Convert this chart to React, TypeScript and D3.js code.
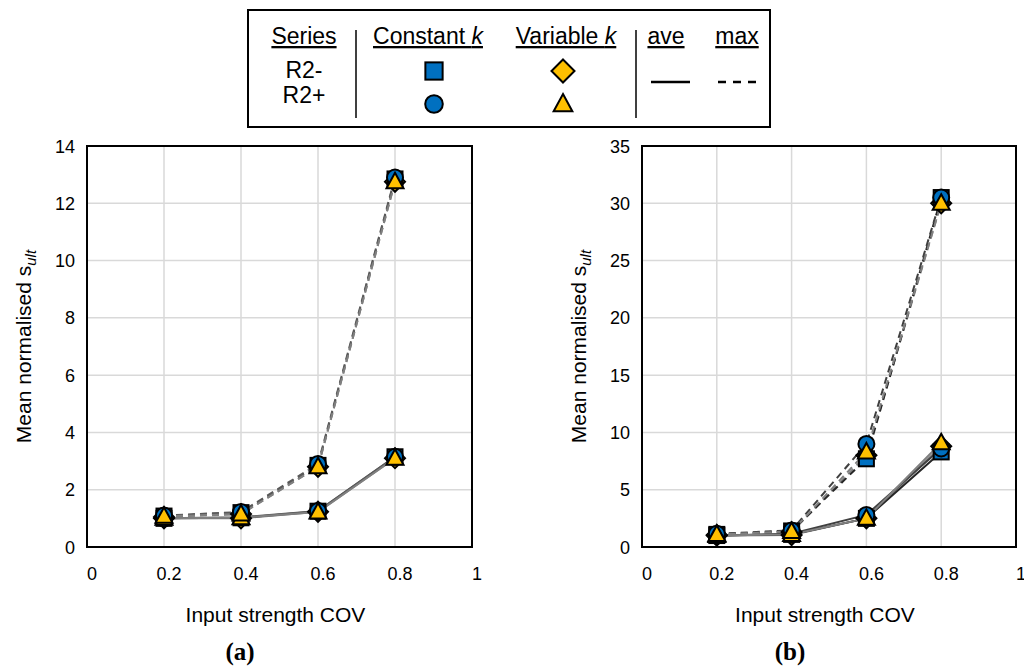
import React from "react";
import * as d3 from "d3";

const xValues = [0.2, 0.4, 0.6, 0.8];
const xTicks = [0, 0.2, 0.4, 0.6, 0.8, 1];
const yTicksA = [0, 2, 4, 6, 8, 10, 12, 14];
const yTicksB = [0, 5, 10, 15, 20, 25, 30, 35];

// Chart (a)
const aR2mConstAve = [1.0, 1.02, 1.25, 3.15];
const aR2mConstMax = [1.08, 1.2, 2.85, 12.85];
const aR2pConstAve = [1.0, 1.04, 1.26, 3.15];
const aR2pConstMax = [1.1, 1.22, 2.9, 12.9];
const aR2mVarAve = [1.0, 1.0, 1.23, 3.1];
const aR2mVarMax = [1.05, 1.15, 2.8, 12.75];
const aR2pVarAve = [1.0, 1.02, 1.22, 3.1];
const aR2pVarMax = [1.07, 1.15, 2.8, 12.75];

// Chart (b)
const bR2mConstAve = [1.0, 1.1, 2.5, 8.3];
const bR2mConstMax = [1.1, 1.4, 7.7, 30.5];
const bR2pConstAve = [1.0, 1.15, 2.8, 8.6];
const bR2pConstMax = [1.15, 1.45, 9.0, 30.5];
const bR2mVarAve = [1.0, 1.05, 2.5, 8.8];
const bR2mVarMax = [1.05, 1.3, 8.0, 30.0];
const bR2pVarAve = [1.0, 1.1, 2.5, 9.1];
const bR2pVarMax = [1.1, 1.35, 8.3, 30.0];

const BLUE = "#0070C0";
const YELLOW = "#FFC000";
const FONT = "Liberation Sans, Arial, sans-serif";

type Shape = "square" | "circle" | "diamond" | "triangle";

function Marker({ shape, x, y, s = 1 }: { shape: Shape; x: number; y: number; s?: number }) {
  const sw = 2;
  if (shape === "square")
    return <rect x={x - 7.5 * s} y={y - 7.5 * s} width={15 * s} height={15 * s} fill={BLUE} stroke="#000" strokeWidth={sw} />;
  if (shape === "circle")
    return <circle cx={x} cy={y} r={8 * s} fill={BLUE} stroke="#000" strokeWidth={sw} />;
  if (shape === "diamond") {
    const h = 10 * s;
    return (
      <path d={`M${x},${y - h}L${x + h},${y}L${x},${y + h}L${x - h},${y}Z`} fill={YELLOW} stroke="#000" strokeWidth={sw} />
    );
  }
  const w = 8.5 * s;
  return (
    <path
      d={`M${x},${y - 9 * s}L${x + w},${y + 6.5 * s}L${x - w},${y + 6.5 * s}Z`}
      fill={YELLOW}
      stroke="#000"
      strokeWidth={sw}
    />
  );
}

interface SeriesDef {
  shape: Shape;
  ave: number[];
  max: number[];
  color: string;
}

function Chart({
  left,
  right,
  top,
  bottom,
  yMax,
  yTicks,
  series,
  caption,
  yTitleX,
  captionX,
}: {
  left: number;
  right: number;
  top: number;
  bottom: number;
  yMax: number;
  yTicks: number[];
  series: SeriesDef[];
  caption: string;
  yTitleX: number;
  captionX: number;
}) {
  const x = d3.scaleLinear().domain([0, 1]).range([left, right]);
  const y = d3.scaleLinear().domain([0, yMax]).range([bottom, top]);
  const line = d3
    .line<number>()
    .x((_, i) => x(xValues[i]))
    .y((d) => y(d));
  const midY = (top + bottom) / 2;
  const midX = (left + right) / 2;
  return (
    <g>
      {xTicks.map((t) => (
        <line key={"gx" + t} x1={x(t)} x2={x(t)} y1={top} y2={bottom} stroke="#d9d9d9" strokeWidth={1.5} />
      ))}
      {yTicks.map((t) => (
        <line key={"gy" + t} x1={left} x2={right} y1={y(t)} y2={y(t)} stroke="#d9d9d9" strokeWidth={1.5} />
      ))}
      <rect x={left} y={top} width={right - left} height={bottom - top} fill="none" stroke="#000" strokeWidth={2} />
      {yTicks.map((t) => (
        <text key={"ty" + t} x={left - 12} y={y(t) + 6.5} textAnchor="end" fontFamily={FONT} fontSize={18} fill="#000">
          {t}
        </text>
      ))}
      {xTicks.map((t) => (
        <text key={"tx" + t} x={x(t) + 5} y={580} textAnchor="middle" fontFamily={FONT} fontSize={18} fill="#000">
          {t}
        </text>
      ))}
      <text x={midX - 4} y={622} textAnchor="middle" fontFamily={FONT} fontSize={21} fill="#000">
        Input strength COV
      </text>
      <text
        transform={`translate(${yTitleX},${midY}) rotate(-90)`}
        textAnchor="middle"
        fontFamily={FONT}
        fontSize={21}
        fill="#000"
      >
        Mean normalised s
        <tspan fontStyle="italic" fontSize={15} dy={5}>
          ult
        </tspan>
      </text>
      <text
        x={captionX}
        y={660}
        textAnchor="middle"
        fontFamily="Liberation Serif, Times New Roman, serif"
        fontWeight="bold"
        fontSize={25}
        fill="#000"
      >
        {caption}
      </text>
      {series.map((s, i) => (
        <g key={"l" + i}>
          <path d={line(s.ave) || ""} fill="none" stroke={s.color} strokeWidth={2} />
          <path d={line(s.max) || ""} fill="none" stroke={s.color} strokeWidth={2} strokeDasharray="7,5" />
        </g>
      ))}
      {series.map((s, i) => (
        <g key={"m" + i}>
          {s.ave.map((v, j) => (
            <Marker key={"a" + j} shape={s.shape} x={x(xValues[j])} y={y(v)} />
          ))}
          {s.max.map((v, j) => (
            <Marker key={"b" + j} shape={s.shape} x={x(xValues[j])} y={y(v)} />
          ))}
        </g>
      ))}
    </g>
  );
}

function Legend() {
  const t = { fontFamily: FONT, fontSize: 23, fill: "#000" } as const;
  return (
    <g>
      <rect x={248} y={10} width={522} height={117} fill="#fff" stroke="#000" strokeWidth={2} />
      <text x={304} y={44} textAnchor="middle" textDecoration="underline" {...t}>
        Series
      </text>
      <text x={428} y={44} textAnchor="middle" textDecoration="underline" {...t}>
        Constant <tspan fontStyle="italic">k</tspan>
      </text>
      <text x={566} y={44} textAnchor="middle" textDecoration="underline" {...t}>
        Variable <tspan fontStyle="italic">k</tspan>
      </text>
      <text x={666} y={44} textAnchor="middle" textDecoration="underline" {...t}>
        ave
      </text>
      <text x={737} y={44} textAnchor="middle" textDecoration="underline" {...t}>
        max
      </text>
      <text x={304} y={78} textAnchor="middle" {...t}>
        R2-
      </text>
      <text x={304} y={103} textAnchor="middle" {...t}>
        R2+
      </text>
      <line x1={356} x2={356} y1={30} y2={118} stroke="#000" strokeWidth={1.5} />
      <line x1={636} x2={636} y1={30} y2={118} stroke="#000" strokeWidth={1.5} />
      <Marker shape="square" x={434} y={71} s={1.15} />
      <Marker shape="diamond" x={563} y={71} s={1.15} />
      <Marker shape="circle" x={434} y={104} s={1.1} />
      <Marker shape="triangle" x={563} y={104} s={1.1} />
      <line x1={651} x2={690} y1={82} y2={82} stroke="#000" strokeWidth={2.5} />
      <line x1={718} x2={757} y1={82} y2={82} stroke="#000" strokeWidth={2.5} strokeDasharray="8,7" />
    </g>
  );
}

export default function App() {
  const seriesA: SeriesDef[] = [
    { shape: "diamond", ave: aR2mVarAve, max: aR2mVarMax, color: "#808080" },
    { shape: "square", ave: aR2mConstAve, max: aR2mConstMax, color: "#595959" },
    { shape: "circle", ave: aR2pConstAve, max: aR2pConstMax, color: "#595959" },
    { shape: "triangle", ave: aR2pVarAve, max: aR2pVarMax, color: "#808080" },
  ];
  const seriesB: SeriesDef[] = [
    { shape: "diamond", ave: bR2mVarAve, max: bR2mVarMax, color: "#808080" },
    { shape: "square", ave: bR2mConstAve, max: bR2mConstMax, color: "#262626" },
    { shape: "circle", ave: bR2pConstAve, max: bR2pConstMax, color: "#404040" },
    { shape: "triangle", ave: bR2pVarAve, max: bR2pVarMax, color: "#808080" },
  ];
  return (
    <svg width={1024} height={669} style={{ position: "absolute", left: 0, top: 0, display: "block", background: "#fff" }}>
      <rect width={1024} height={669} fill="#fff" />
      <Legend />
      <Chart left={87} right={472} top={146} bottom={547} yMax={14} yTicks={yTicksA} series={seriesA} caption="(a)" yTitleX={31} captionX={240} />
      <Chart left={642} right={1016} top={146} bottom={547} yMax={35} yTicks={yTicksB} series={seriesB} caption="(b)" yTitleX={586} captionX={790} />
    </svg>
  );
}
